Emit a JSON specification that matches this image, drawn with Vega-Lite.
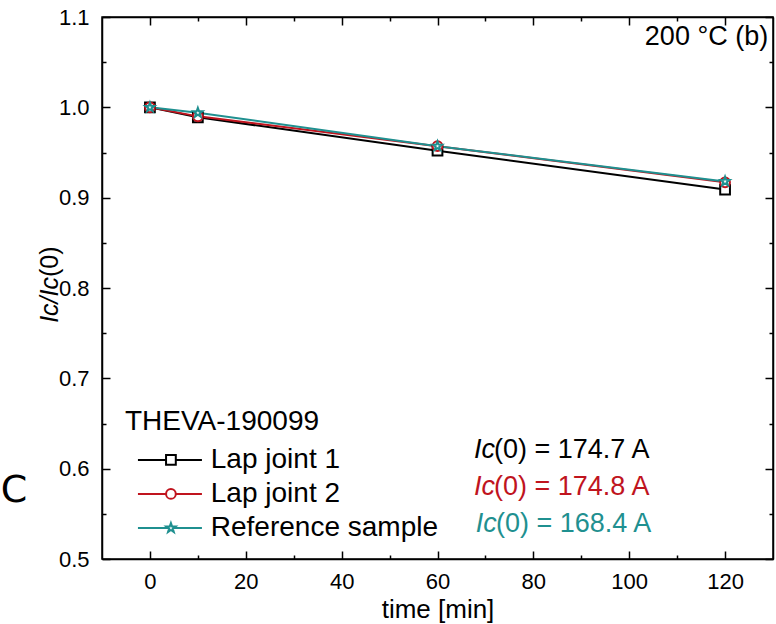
{
  "$schema": "https://vega.github.io/schema/vega-lite/v6.json",
  "width": 671,
  "height": 542,
  "autosize": "none",
  "padding": {"left": 102, "top": 17, "right": 3, "bottom": 65},
  "background": "white",
  "config": {
    "font": "Liberation Sans",
    "view": {"stroke": "black", "strokeWidth": 1.5},
    "axis": {
      "domainColor": "black", "domainWidth": 1.5,
      "tickColor": "black", "tickWidth": 1.5,
      "labelColor": "black", "labelFontSize": 22, "labelFont": "Liberation Sans",
      "titleColor": "black", "titleFontSize": 26, "titleFont": "Liberation Sans", "titleFontWeight": "normal",
      "grid": false
    }
  },
  "datasets": {
    "ic": [
      {"series": "Lap joint 1", "time": 0, "ratio": 1.0},
      {"series": "Lap joint 1", "time": 10, "ratio": 0.989},
      {"series": "Lap joint 1", "time": 60, "ratio": 0.952},
      {"series": "Lap joint 1", "time": 120, "ratio": 0.909},
      {"series": "Lap joint 2", "time": 0, "ratio": 1.0},
      {"series": "Lap joint 2", "time": 10, "ratio": 0.990},
      {"series": "Lap joint 2", "time": 60, "ratio": 0.957},
      {"series": "Lap joint 2", "time": 120, "ratio": 0.917},
      {"series": "Reference sample", "time": 0, "ratio": 1.0},
      {"series": "Reference sample", "time": 10, "ratio": 0.994},
      {"series": "Reference sample", "time": 60, "ratio": 0.957},
      {"series": "Reference sample", "time": 120, "ratio": 0.918}
    ]
  },
  "resolve": {"axis": {"x": "independent", "y": "independent"}},
  "layer": [
    {
      "data": {"name": "ic"},
      "mark": {"type": "line", "strokeWidth": 2},
      "encoding": {
        "x": {"field": "time", "type": "quantitative",
          "scale": {"domain": [-10, 130], "nice": false, "zero": false},
          "axis": {"orient": "bottom", "title": "time [min]", "values": [0,10,20,30,40,50,60,70,80,90,100,110,120],
            "format": "d", "labelExpr": "datum.value % 20 === 0 ? datum.label : ''",
            "tickSize": {"condition": {"test": "datum.value % 20 === 0", "value": -8}, "value": -4},
            "labelPadding": 20, "titlePadding": 4}},
        "y": {"field": "ratio", "type": "quantitative",
          "scale": {"domain": [0.5, 1.1], "nice": false, "zero": false},
          "axis": {"orient": "left", "title": null,
            "values": [0.5,0.55,0.6,0.65,0.7,0.75,0.8,0.85,0.9,0.95,1.0,1.05,1.1],
            "format": ".1f", "labelExpr": "abs(datum.value*10 - round(datum.value*10)) < 0.001 ? datum.label : ''",
            "tickSize": {"condition": {"test": "abs(datum.value*10 - round(datum.value*10)) < 0.001", "value": -8}, "value": -4},
            "labelPadding": 21}},
        "color": {"field": "series", "type": "nominal",
          "scale": {"domain": ["Lap joint 1", "Lap joint 2", "Reference sample"], "range": ["#000000", "#c0141e", "#1f9090"]},
          "legend": null}
      }
    },
    {
      "data": {"name": "ic"},
      "mark": {"type": "point", "filled": false, "fill": "white", "fillOpacity": 1, "strokeWidth": 2, "size": 95},
      "encoding": {
        "x": {"field": "time", "type": "quantitative",
          "axis": {"orient": "top", "title": null, "labels": false, "values": [0,10,20,30,40,50,60,70,80,90,100,110,120],
            "tickSize": {"condition": {"test": "datum.value % 20 === 0", "value": -8}, "value": -4}}},
        "y": {"field": "ratio", "type": "quantitative",
          "axis": {"orient": "right", "title": null, "labels": false,
            "values": [0.5,0.55,0.6,0.65,0.7,0.75,0.8,0.85,0.9,0.95,1.0,1.05,1.1],
            "tickSize": {"condition": {"test": "abs(datum.value*10 - round(datum.value*10)) < 0.001", "value": -8}, "value": -4}}},
        "color": {"field": "series", "type": "nominal", "legend": null},
        "shape": {"field": "series", "type": "nominal",
          "scale": {"domain": ["Lap joint 1", "Lap joint 2", "Reference sample"],
            "range": ["square", "circle", "M0,-1L0.235,-0.324L0.951,-0.309L0.38,0.124L0.588,0.809L0,0.4L-0.588,0.809L-0.38,0.124L-0.951,-0.309L-0.235,-0.324Z"]},
          "legend": null}
      }
    },
    {
      "data": {"values": [{"a": "Ic/Ic", "b": "(0)"}]},
      "layer": [
        {"mark": {"type": "text", "align": "right", "baseline": "middle", "angle": 270, "fontSize": 25, "fontStyle": "italic", "color": "black"},
          "encoding": {"x": {"datum": -20.9, "axis": null}, "y": {"datum": 0.8122, "axis": null}, "text": {"field": "a"}}},
        {"mark": {"type": "text", "align": "left", "baseline": "middle", "angle": 270, "fontSize": 25, "color": "black"},
          "encoding": {"x": {"datum": -20.9, "axis": null}, "y": {"datum": 0.8122, "axis": null}, "text": {"field": "b"}}}
      ]
    },
    {
      "data": {"values": [{"label": "THEVA-190099"}]},
      "mark": {"type": "text", "align": "left", "baseline": "middle", "fontSize": 28, "color": "black"},
      "encoding": {"x": {"datum": -5.2, "axis": null}, "y": {"datum": 0.6517, "axis": null}, "text": {"field": "label"}}
    },
    {
      "data": {"values": [{"series": "Lap joint 1", "lx": -2.5, "lx2": 10.85, "sx": 4.38, "tx": 12.7, "ly": 0.6096},
                          {"series": "Lap joint 2", "lx": -2.5, "lx2": 10.85, "sx": 4.38, "tx": 12.7, "ly": 0.5720},
                          {"series": "Reference sample", "lx": -2.5, "lx2": 10.85, "sx": 4.38, "tx": 12.7, "ly": 0.5343}]},
      "layer": [
        {"mark": {"type": "rule", "strokeWidth": 2},
          "encoding": {"x": {"field": "lx", "type": "quantitative", "axis": null}, "x2": {"field": "lx2"},
            "y": {"field": "ly", "type": "quantitative", "axis": null},
            "color": {"field": "series", "type": "nominal", "legend": null}}},
        {"mark": {"type": "point", "filled": false, "fill": "white", "fillOpacity": 1, "strokeWidth": 2, "size": 95},
          "encoding": {"x": {"field": "sx", "type": "quantitative", "axis": null},
            "y": {"field": "ly", "type": "quantitative", "axis": null},
            "color": {"field": "series", "type": "nominal", "legend": null},
            "shape": {"field": "series", "type": "nominal", "legend": null}}},
        {"mark": {"type": "text", "align": "left", "baseline": "middle", "fontSize": 28, "color": "black"},
          "encoding": {"x": {"field": "tx", "type": "quantitative", "axis": null},
            "y": {"field": "ly", "type": "quantitative", "axis": null},
            "text": {"field": "series"}}}
      ]
    },
    {
      "data": {"values": [{"series": "Lap joint 1", "ic": "Ic", "rest": "(0) = 174.7 A", "ix": 67.6, "rx": 71.8, "ty": 0.6207},
                          {"series": "Lap joint 2", "ic": "Ic", "rest": "(0) = 174.8 A", "ix": 67.6, "rx": 71.8, "ty": 0.5797},
                          {"series": "Reference sample", "ic": "Ic", "rest": "(0) = 168.4 A", "ix": 68.0, "rx": 72.2, "ty": 0.5387}]},
      "layer": [
        {"mark": {"type": "text", "align": "left", "baseline": "middle", "fontSize": 27, "fontStyle": "italic"},
          "encoding": {"x": {"field": "ix", "type": "quantitative", "axis": null},
            "y": {"field": "ty", "type": "quantitative", "axis": null},
            "color": {"field": "series", "type": "nominal", "legend": null},
            "text": {"field": "ic"}}},
        {"mark": {"type": "text", "align": "left", "baseline": "middle", "fontSize": 27},
          "encoding": {"x": {"field": "rx", "type": "quantitative", "axis": null},
            "y": {"field": "ty", "type": "quantitative", "axis": null},
            "color": {"field": "series", "type": "nominal", "legend": null},
            "text": {"field": "rest"}}}
      ]
    },
    {
      "data": {"values": [{"label": "200 °C (b)"}]},
      "mark": {"type": "text", "align": "right", "baseline": "middle", "fontSize": 27, "color": "black"},
      "encoding": {"x": {"datum": 129, "axis": null}, "y": {"datum": 1.078, "axis": null}, "text": {"field": "label"}}
    },
    {
      "data": {"values": [{"label": "C"}]},
      "mark": {"type": "text", "align": "left", "baseline": "middle", "fontSize": 38, "font": "DejaVu Sans", "color": "black"},
      "encoding": {"x": {"datum": -31.1, "axis": null}, "y": {"datum": 0.575, "axis": null}, "text": {"field": "label"}}
    }
  ]
}
